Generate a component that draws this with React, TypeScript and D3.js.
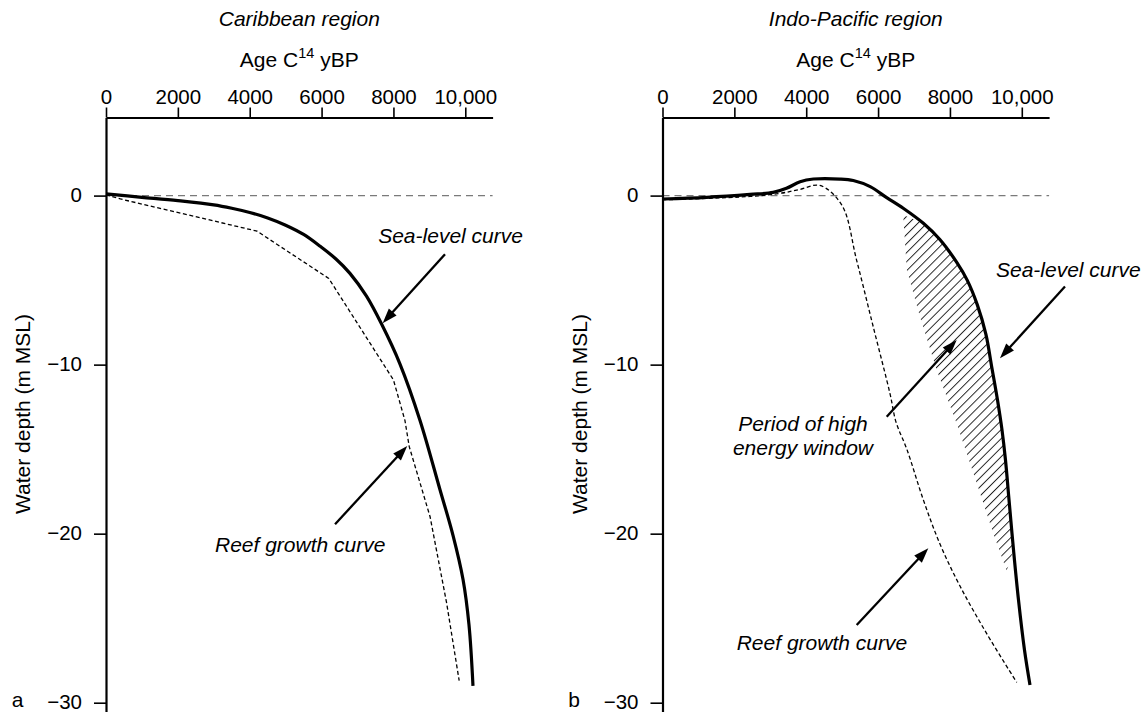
import React, { useEffect, useRef } from "react";
import * as d3 from "d3";

// ---------- data ----------
const ageTicks = [0, 2000, 4000, 6000, 8000, 10000];
const depthTicks = [0, -10, -20, -30];
const ageDomain: [number, number] = [0, 10760];
const depthDomain: [number, number] = [-30.55, 4.62];

const panelTitles = ["Caribbean region", "Indo-Pacific region"];
const panelLetters = ["a", "b"];
const yAxisTitle = "Water depth (m MSL)";

// Caribbean: [age yBP, depth m]
const caribSea: [number, number][] = [
  [0, 0.1], [1000, -0.1], [2000, -0.3], [3000, -0.55], [3500, -0.75], [4000, -1.0],
  [4500, -1.32], [5000, -1.75], [5500, -2.3], [5960, -3.0], [6400, -3.75], [6790, -4.6],
  [7250, -5.95], [7670, -7.6], [8180, -9.95], [8740, -13.3], [9296, -17.4], [9658, -20.1],
  [9936, -22.7], [10103, -25.4], [10214, -29.0],
];
const caribReef: [number, number][] = [
  [0, 0.05], [400, -0.2], [4200, -2.1], [6200, -4.9], [8000, -10.9],
  [8320, -13.3], [8440, -14.85], [9020, -19.0], [9480, -24.1], [9830, -28.7],
];

// Indo-Pacific
const indoSea: [number, number][] = [
  [0, -0.2], [1230, -0.1], [2435, 0.07], [3080, 0.19], [3450, 0.43], [3830, 0.82],
  [4200, 0.98], [4940, 0.98], [5310, 0.89], [5780, 0.53], [6240, -0.12], [6700, -0.75],
  [7260, -1.64], [7720, -2.6], [8190, -3.95], [8480, -5.0], [8760, -6.45], [9000, -8.2],
  [9162, -10.12], [9324, -12.09], [9449, -13.86], [9546, -15.64], [9644, -17.99],
  [9769, -20.95], [9908, -23.92], [10075, -26.88], [10228, -28.95],
];
const indoReef: [number, number][] = [
  [0, -0.25], [2435, -0.05], [3270, 0.13], [3830, 0.37], [4380, 0.6], [4990, -0.56],
  [5400, -3.8], [5870, -7.8], [6330, -11.7], [6500, -13.4], [6800, -15.0],
  [7260, -18.0], [7720, -20.6], [8280, -23.1], [9020, -25.9], [9860, -28.8],
];
// left edge of the high-energy window (hatched), top to bottom
const indoHatchEdge: [number, number][] = [
  [6700, -1.15], [6800, -4.4], [7170, -7.2], [7630, -10.3], [8190, -13.5],
  [8745, -17.0], [9210, -20.0], [9580, -22.2],
];

// annotations: arrows [fromAge, fromDepth, toAge, toDepth]
const caribArrows: [number, number, number, number][] = [
  [9435, -3.47, 7700, -7.55],
  [6375, -19.44, 8385, -14.81],
];
const indoArrows: [number, number, number, number][] = [
  [11202, -5.38, 9393, -9.62],
  [6240, -13.08, 8188, -8.54],
  [5405, -25.4, 7398, -20.86],
];
type Label = { text: string; age: number; depth: number; anchor: "start" | "middle" };
const caribLabels: Label[] = [
  { text: "Sea-level curve", age: 7576, depth: -2.82, anchor: "start" },
  { text: "Reef growth curve", age: 3034, depth: -21.08, anchor: "start" },
];
const indoLabels: Label[] = [
  { text: "Sea-level curve", age: 9282, depth: -4.84, anchor: "start" },
  { text: "Period of high", age: 3910, depth: -13.92, anchor: "middle" },
  { text: "energy window", age: 3910, depth: -15.34, anchor: "middle" },
  { text: "Reef growth curve", age: 2065, depth: -26.88, anchor: "start" },
];

// ---------- layout ----------
const W = 1146;
const H = 712;
const FONT = "'Liberation Sans', Arial, Helvetica, sans-serif";
const yRange: [number, number] = [712, 117.5];
const panels = [
  { xRange: [106, 492.6] as [number, number], sea: caribSea, reef: caribReef, reefCurve: d3.curveLinear, arrows: caribArrows, labels: caribLabels, hatch: null as null | [number, number][] },
  { xRange: [662.5, 1049.1] as [number, number], sea: indoSea, reef: indoReef, reefCurve: d3.curveCatmullRom, arrows: indoArrows, labels: indoLabels, hatch: indoHatchEdge },
];

const fmtAge = (d: number) => (d >= 10000 ? d3.format(",")(d) : String(d));
const fmtDepth = (d: number) => (d < 0 ? "\u2212" + Math.abs(d) : String(d));

function arrowShapes(x1: number, y1: number, x2: number, y2: number) {
  const len = 15, hw = 5.2;
  const dx = x2 - x1, dy = y2 - y1;
  const L = Math.hypot(dx, dy);
  const ux = dx / L, uy = dy / L;
  const bx = x2 - ux * len, by = y2 - uy * len;
  const px = -uy, py = ux;
  return {
    line: { x1, y1, x2: bx + ux * 2, y2: by + uy * 2 },
    head: `${x2},${y2} ${bx + px * hw},${by + py * hw} ${bx - px * hw},${by - py * hw}`,
  };
}

export default function App() {
  const svgRef = useRef<SVGSVGElement>(null);
  const y = d3.scaleLinear().domain(depthDomain).range(yRange);

  useEffect(() => {
    const svg = d3.select(svgRef.current);
    panels.forEach((p, i) => {
      const x = d3.scaleLinear().domain(ageDomain).range(p.xRange);
      const gx = svg.select<SVGGElement>(`.xaxis-${i}`);
      gx.call(
        d3.axisTop(x).tickValues(ageTicks).tickSize(10).tickSizeOuter(0).tickPadding(3.5).tickFormat((d) => fmtAge(+d))
      );
      const gy = svg.select<SVGGElement>(`.yaxis-${i}`);
      gy.call(
        d3.axisLeft(y).tickValues(depthTicks).tickSize(12).tickSizeOuter(0).tickPadding(12).tickFormat((d) => fmtDepth(+d))
      );
      [gx, gy].forEach((g) => {
        g.attr("font-family", FONT).attr("font-size", 20.5);
        g.select(".domain").attr("stroke", "#000").attr("stroke-width", 2.2);
        g.selectAll(".tick line").attr("stroke", "#000").attr("stroke-width", 1.6);
        g.selectAll(".tick text").attr("fill", "#000");
      });
      gy.selectAll(".tick text").attr("dy", "0.3em");
    });
  }, []);

  return (
    <svg
      ref={svgRef}
      width={W}
      height={H}
      style={{ position: "absolute", left: 0, top: 0, background: "#fff", display: "block" }}
      fontFamily={FONT}
    >
      <defs>
        <pattern id="hatch" patternUnits="userSpaceOnUse" width={6.4} height={6.4} patternTransform="rotate(45)">
          <line x1={0.5} y1={0} x2={0.5} y2={6.4} stroke="#111" strokeWidth={0.9} />
        </pattern>
      </defs>
      <rect x={0} y={0} width={W} height={H} fill="#fff" />
      {panels.map((p, i) => {
        const x = d3.scaleLinear().domain(ageDomain).range(p.xRange);
        const line = d3
          .line<[number, number]>()
          .x((d) => x(d[0]))
          .y((d) => y(d[1]));
        const seaPath = line.curve(d3.curveCatmullRom)(p.sea) || "";
        const reefPath = line.curve(p.reefCurve)(p.reef) || "";
        let hatchPath = "";
        if (p.hatch) {
          const top = p.hatch[0][1];
          const bot = p.hatch[p.hatch.length - 1][1];
          const right = p.sea.filter((d) => d[1] <= top && d[1] >= bot).slice().reverse();
          const poly = [...p.hatch, ...right];
          hatchPath = (line.curve(d3.curveLinear)(poly) || "") + "Z";
        }
        const mid = (p.xRange[0] + p.xRange[1]) / 2;
        const off = p.xRange[0] - 106;
        return (
          <g key={i}>
            <text x={mid} y={26} textAnchor="middle" fontSize={21} fontStyle="italic">
              {panelTitles[i]}
            </text>
            <text x={mid} y={66.7} textAnchor="middle" fontSize={21}>
              Age C
              <tspan fontSize={14.5} dy={-8.5}>14</tspan>
              <tspan dy={8.5}> yBP</tspan>
            </text>
            <text transform={`translate(${30 + off},414) rotate(-90)`} textAnchor="middle" fontSize={21}>
              {yAxisTitle}
            </text>
            <text x={11.7 + off} y={707} fontSize={21}>
              {panelLetters[i]}
            </text>
            <line
              x1={x(0)}
              x2={x(ageDomain[1])}
              y1={y(0)}
              y2={y(0)}
              stroke="#7a7a7a"
              strokeWidth={1.3}
              strokeDasharray="7,5"
            />
            {hatchPath && <path d={hatchPath} fill="url(#hatch)" stroke="none" />}
            <path d={reefPath} fill="none" stroke="#000" strokeWidth={1.3} strokeDasharray="4,2.6" />
            <path d={seaPath} fill="none" stroke="#000" strokeWidth={3.2} strokeLinejoin="round" />
            {p.arrows.map((a, k) => {
              const s = arrowShapes(x(a[0]), y(a[1]), x(a[2]), y(a[3]));
              return (
                <g key={k}>
                  <line {...s.line} stroke="#000" strokeWidth={2.3} />
                  <polygon points={s.head} fill="#000" />
                </g>
              );
            })}
            {p.labels.map((l, k) => (
              <text key={k} x={x(l.age)} y={y(l.depth)} textAnchor={l.anchor} fontSize={21} fontStyle="italic">
                {l.text}
              </text>
            ))}
            <g className={`xaxis-${i}`} transform="translate(0,117.5)" />
            <g className={`yaxis-${i}`} transform={`translate(${p.xRange[0]},0)`} />
          </g>
        );
      })}
    </svg>
  );
}
